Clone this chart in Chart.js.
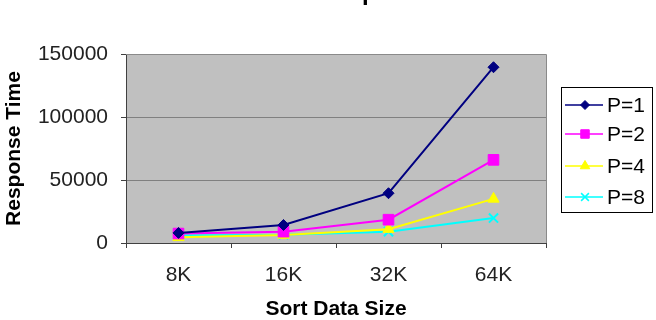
<!DOCTYPE html>
<html>
<head>
<meta charset="utf-8">
<script src="https://cdn.jsdelivr.net/npm/chart.js@4"></script>
<style>
html,body{margin:0;padding:0;background:#fff;}
#wrap{position:relative;width:656px;height:320px;}
</style>
</head>
<body>
<div id="wrap"><canvas id="c" width="656" height="320"></canvas></div>
<script>
const titleText = "SORT1M Response";
const categories = ["8K", "16K", "32K", "64K"];
const seriesNames = ["P=1", "P=2", "P=4", "P=8"];
const p1 = [8000, 14300, 39500, 139500];
const p2 = [7500, 9000, 18500, 66000];
const p4 = [4500, 6300, 11000, 35000];
const p8 = [6000, 6500, 9000, 19800];
const yTicks = [0, 50000, 100000, 150000];

const colors = ["#000080", "#ff00ff", "#ffff00", "#00ffff"];
const styles = ["rectRot", "rect", "triangle", "crossRot"];
const radii = [5.5, 7.5, 6.5, 6.5];
const values = [p1, p2, p4, p8];

const FONT = "'Liberation Sans', Arial, sans-serif";

const bgPlugin = {
  id: "bg",
  beforeDraw(chart) {
    const {ctx, chartArea: a} = chart;
    ctx.save();
    ctx.fillStyle = "#c0c0c0";
    ctx.fillRect(a.left, a.top, a.right - a.left, a.bottom - a.top);
    ctx.restore();
  },
  afterDraw(chart) {
    const {ctx, chartArea: a} = chart;
    ctx.save();
    ctx.strokeStyle = "#8a8a8a";
    ctx.lineWidth = 1;
    ctx.beginPath();
    ctx.moveTo(a.left, a.top + 0.5);
    ctx.lineTo(a.right + 0.5, a.top + 0.5);
    ctx.lineTo(a.right + 0.5, a.bottom);
    ctx.stroke();
    // title (clipped at top of the picture)
    ctx.fillStyle = "#000";
    ctx.font = "bold 24px " + FONT;
    ctx.textAlign = "center";
    ctx.textBaseline = "alphabetic";
    ctx.fillText(titleText, 322, 0);
    // legend
    const lx = 561, ly = 87, lw = 91, lh = 125;
    ctx.fillStyle = "#fff";
    ctx.fillRect(lx, ly, lw, lh);
    ctx.strokeStyle = "#000";
    ctx.lineWidth = 1;
    ctx.strokeRect(lx + 0.5, ly + 0.5, lw, lh);
    const rows = [105, 134, 166, 197];
    const legR = [4.5, 6, 5.5, 5.5];
    chart.data.datasets.forEach((ds, i) => {
      const y = rows[i];
      ctx.strokeStyle = ds.borderColor;
      ctx.lineWidth = 1.5;
      ctx.beginPath();
      ctx.moveTo(565, y);
      ctx.lineTo(603, y);
      ctx.stroke();
      ctx.fillStyle = ds.borderColor;
      ctx.strokeStyle = ds.borderColor;
      ctx.lineWidth = ds.pointStyle === "crossRot" ? 1.5 : 1;
      Chart.helpers.drawPoint(ctx, {
        pointStyle: ds.pointStyle,
        radius: legR[i],
        borderWidth: ctx.lineWidth,
        rotation: 0
      }, 585, y);
      ctx.fillStyle = "#000";
      ctx.font = "21px " + FONT;
      ctx.textAlign = "left";
      ctx.textBaseline = "middle";
      ctx.fillText(ds.label, 607, y + 1);
    });
    ctx.restore();
  }
};

const datasets = seriesNames.map((name, i) => ({
  label: name,
  data: values[i],
  borderColor: colors[i],
  backgroundColor: colors[i],
  pointBackgroundColor: colors[i],
  pointBorderColor: colors[i],
  pointStyle: styles[i],
  pointRadius: radii[i],
  pointBorderWidth: styles[i] === "crossRot" ? 2 : 1,
  borderWidth: 2,
  tension: 0,
  fill: false
}));

new Chart(document.getElementById("c"), {
  type: "line",
  data: { labels: categories, datasets },
  plugins: [bgPlugin],
  options: {
    responsive: false,
    animation: false,
    layout: { padding: { left: 0, top: 54, right: 110, bottom: 0 } },
    plugins: { legend: { display: false }, title: { display: false }, tooltip: { enabled: false } },
    scales: {
      x: {
        offset: true,
        grid: { offset: true, drawOnChartArea: false, tickLength: 5, color: "#404040", tickColor: "#404040" },
        border: { color: "#404040", width: 1 },
        ticks: { color: "#222", font: { family: FONT, size: 21 }, padding: 15 },
        title: { display: true, text: "Sort Data Size", color: "#000", font: { family: FONT, size: 21, weight: "bold", lineHeight: 1 }, padding: { top: 0, bottom: 0 } },
        afterFit(s) { s.height = 77; }
      },
      y: {
        min: 0, max: 150000,
        afterBuildTicks(s) { s.ticks = yTicks.map(v => ({ value: v })); },
        grid: { color: "#808080", tickColor: "#404040", tickLength: 5 },
        border: { color: "#404040", width: 1 },
        ticks: { color: "#222", font: { family: FONT, size: 21 }, padding: 13, callback: v => String(v) },
        title: { display: true, text: "Response Time", color: "#000", font: { family: FONT, size: 21, weight: "bold", lineHeight: 1 }, padding: { top: 4, bottom: 0 } },
        afterFit(s) { s.width = 126; }
      }
    }
  }
});
</script>
</body>
</html>
